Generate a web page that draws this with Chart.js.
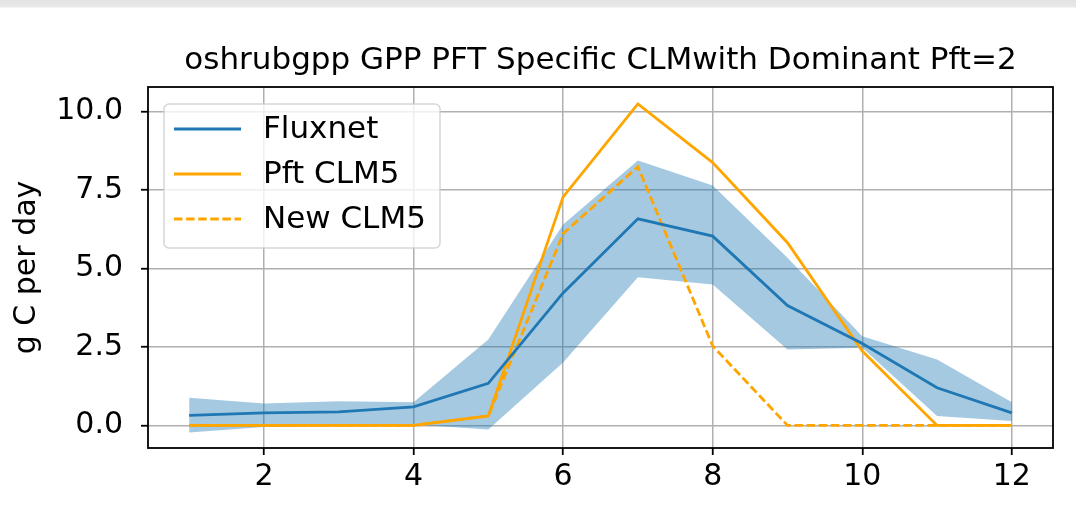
<!DOCTYPE html>
<html>
<head>
<meta charset="utf-8">
<script src="https://cdn.jsdelivr.net/npm/chart.js@4/dist/chart.umd.min.js"></script>
<style>
  html, body { margin: 0; padding: 0; }
  body {
    width: 1076px; height: 520px; overflow: hidden;
    background: linear-gradient(to bottom, #e3e3e3 0px, #e9e9e9 7px, #ffffff 8px, #ffffff 100%);
  }
  canvas { display: block; }
</style>
</head>
<body>
<canvas id="chart" width="1076" height="520"></canvas>
<script>
// Monthly GPP (g C per day)
const months = [1, 2, 3, 4, 5, 6, 7, 8, 9, 10, 11, 12];
const fluxnet = [0.32, 0.40, 0.43, 0.59, 1.34, 4.22, 6.58, 6.03, 3.82, 2.61, 1.20, 0.40];
const fluxnetUpper = [0.88, 0.70, 0.77, 0.74, 2.74, 6.40, 8.44, 7.64, 5.34, 2.84, 2.10, 0.74];
const fluxnetLower = [-0.23, -0.05, 0.00, 0.03, -0.13, 2.00, 4.72, 4.49, 2.42, 2.47, 0.30, 0.14];
const pftClm5 = [0, 0, 0, 0, 0.30, 7.28, 10.24, 8.37, 5.82, 2.37, 0, 0];
const newClm5 = [0, 0, 0, 0, 0.30, 6.11, 8.24, 2.53, 0, 0, 0, 0];

const xTicks = [2, 4, 6, 8, 10, 12];
const yTicks = [0, 2.5, 5, 7.5, 10];
const titleText = 'oshrubgpp GPP PFT Specific CLMwith Dominant Pft=2';
const yAxisLabel = 'g C per day';

const BLUE = '#1f77b4';
const ORANGE = '#ffa500';
const FONT = "'DejaVu Sans', sans-serif";

const pts = arr => months.map((m, i) => ({ x: m, y: arr[i] }));

Chart.defaults.font.family = FONT;
Chart.defaults.color = '#000';

// Title above the axes
const titlePlugin = {
  id: 'axesTitle',
  afterDraw(chart) {
    const { ctx, chartArea } = chart;
    ctx.save();
    ctx.font = `31px ${FONT}`;
    ctx.fillStyle = '#000';
    ctx.textAlign = 'center';
    ctx.textBaseline = 'alphabetic';
    ctx.fillText(titleText, (chartArea.left + chartArea.right) / 2, 69);
    ctx.restore();
  }
};

// Black frame round the plotting area
const framePlugin = {
  id: 'frame',
  afterDatasetsDraw(chart) {
    const { ctx, chartArea: a } = chart;
    ctx.save();
    ctx.strokeStyle = '#000';
    ctx.lineWidth = 1.8;
    ctx.strokeRect(a.left, a.top, a.right - a.left, a.bottom - a.top);
    ctx.restore();
  }
};

// Legend box in the upper-left corner of the axes
const legendPlugin = {
  id: 'insetLegend',
  afterDraw(chart) {
    const { ctx, chartArea: a } = chart;
    const entries = chart.data.datasets.filter(d => d.inLegend);
    const x0 = a.left + 16, y0 = a.top + 17, w = 276, h = 144;
    ctx.save();
    ctx.beginPath();
    ctx.roundRect(x0, y0, w, h, 5);
    ctx.fillStyle = 'rgba(255,255,255,0.8)';
    ctx.fill();
    ctx.strokeStyle = 'rgba(204,204,204,0.8)';
    ctx.lineWidth = 1.5;
    ctx.stroke();
    ctx.font = `31px ${FONT}`;
    ctx.textBaseline = 'middle';
    ctx.textAlign = 'left';
    entries.forEach((d, i) => {
      const y = y0 + 25 + i * 45;
      ctx.beginPath();
      ctx.setLineDash(d.borderDash || []);
      ctx.strokeStyle = d.borderColor;
      ctx.lineWidth = d.borderWidth;
      ctx.moveTo(x0 + 10, y);
      ctx.lineTo(x0 + 77, y);
      ctx.stroke();
      ctx.setLineDash([]);
      ctx.fillStyle = '#000';
      ctx.fillText(d.label, x0 + 99, y + 1);
    });
    ctx.restore();
  }
};

new Chart(document.getElementById('chart'), {
  type: 'line',
  data: {
    datasets: [
      { label: 'Fluxnet', data: pts(fluxnet), borderColor: BLUE, borderWidth: 2.8, inLegend: true },
      { label: 'Pft CLM5', data: pts(pftClm5), borderColor: ORANGE, borderWidth: 2.8, inLegend: true },
      { label: 'New CLM5', data: pts(newClm5), borderColor: ORANGE, borderWidth: 2.8, borderDash: [8.5, 3.6], inLegend: true },
      { label: 'upper', data: pts(fluxnetUpper), borderWidth: 0, borderColor: 'rgba(0,0,0,0)',
        backgroundColor: 'rgba(31,119,180,0.4)', fill: '+1' },
      { label: 'lower', data: pts(fluxnetLower), borderWidth: 0, borderColor: 'rgba(0,0,0,0)', fill: false }
    ]
  },
  options: {
    responsive: false,
    animation: false,
    devicePixelRatio: 1,
    layout: { padding: { top: 87, right: 23, left: 0, bottom: 0 } },
    elements: { point: { radius: 0, hoverRadius: 0 }, line: { tension: 0 } },
    plugins: { legend: { display: false }, title: { display: false }, tooltip: { enabled: false } },
    scales: {
      x: {
        type: 'linear',
        min: 0.45,
        max: 12.55,
        afterBuildTicks: s => { s.ticks = xTicks.map(v => ({ value: v })); },
        afterFit: s => { s.height = 72; },
        grid: { color: '#b0b0b0', lineWidth: 1.5, tickLength: 7, tickColor: '#000', tickWidth: 1.8 },
        border: { display: false },
        ticks: { font: { size: 30 }, color: '#000', padding: 4, maxRotation: 0 }
      },
      y: {
        type: 'linear',
        min: -0.72,
        max: 10.78,
        afterBuildTicks: s => { s.ticks = yTicks.map(v => ({ value: v })); },
        afterFit: s => { s.width = 148; },
        grid: { color: '#b0b0b0', lineWidth: 1.5, tickLength: 7, tickColor: '#000', tickWidth: 1.8 },
        border: { display: false },
        ticks: { font: { size: 30 }, color: '#000', padding: 18, callback: v => v.toFixed(1) },
        title: { display: true, text: yAxisLabel, font: { size: 30 }, color: '#000', padding: { top: 9, bottom: 0 } }
      }
    }
  },
  plugins: [titlePlugin, framePlugin, legendPlugin]
});
</script>
</body>
</html>
